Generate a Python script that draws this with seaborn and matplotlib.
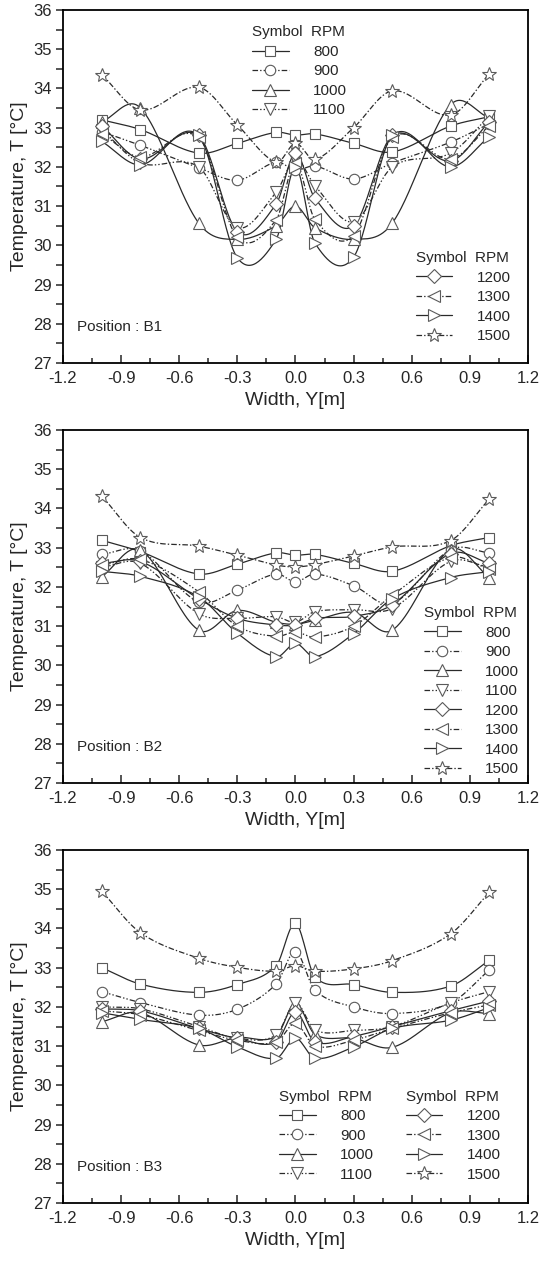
import matplotlib
matplotlib.use("Agg")
import matplotlib.pyplot as plt
import numpy as np
import seaborn as sns
from matplotlib.lines import Line2D
from matplotlib.ticker import MultipleLocator, FormatStrFormatter

# posições ao longo da largura (m)
width_y = [-1.0, -0.8, -0.5, -0.3, -0.1, 0.0, 0.1, 0.3, 0.5, 0.8, 1.0]
rpms = [800, 900, 1000, 1100, 1200, 1300, 1400, 1500]

# Position B1
b1_800 = [33.20, 32.95, 32.35, 32.60, 32.88, 32.81, 32.84, 32.60, 32.38, 33.04, 33.28]
b1_900 = [32.90, 32.55, 31.98, 31.66, 32.12, 31.92, 32.02, 31.69, 32.10, 32.63, 33.10]
b1_1000 = [33.15, 33.50, 30.57, 30.15, 30.50, 31.00, 30.45, 30.15, 30.57, 33.58, 33.25]
b1_1100 = [32.95, 32.10, 32.00, 30.45, 31.35, 32.20, 31.52, 30.60, 32.00, 32.35, 33.30]
b1_1200 = [33.05, 32.20, 32.80, 30.35, 31.05, 32.35, 31.20, 30.50, 32.80, 32.15, 33.15]
b1_1300 = [32.85, 32.25, 32.75, 30.20, 30.65, 32.10, 30.66, 30.25, 32.75, 32.20, 33.05]
b1_1400 = [32.65, 32.05, 32.80, 29.68, 30.15, 32.00, 30.06, 29.70, 32.80, 32.00, 32.77]
b1_1500 = [34.35, 33.45, 34.03, 33.07, 32.12, 32.60, 32.19, 33.00, 33.94, 33.32, 34.37]

# Position B2
b2_800 = [33.19, 32.90, 32.33, 32.58, 32.87, 32.81, 32.83, 32.60, 32.40, 33.05, 33.26]
b2_900 = [32.83, 32.92, 31.62, 31.92, 32.33, 32.13, 32.33, 32.03, 31.58, 32.95, 32.87]
b2_1000 = [32.26, 32.94, 30.90, 31.40, 31.10, 31.05, 31.15, 31.35, 30.90, 32.95, 32.24]
b2_1100 = [32.50, 32.60, 31.32, 31.20, 31.24, 31.10, 31.37, 31.42, 31.45, 32.65, 32.50]
b2_1200 = [32.60, 32.65, 31.70, 31.20, 31.03, 31.03, 31.20, 31.25, 31.55, 32.85, 32.60]
b2_1300 = [32.55, 32.70, 31.88, 31.00, 30.74, 30.85, 30.72, 31.00, 31.79, 32.75, 32.45]
b2_1400 = [32.40, 32.27, 31.75, 30.82, 30.22, 30.56, 30.22, 30.81, 31.70, 32.24, 32.39]
b2_1500 = [34.32, 33.26, 33.04, 32.81, 32.56, 32.51, 32.57, 32.79, 33.02, 33.18, 34.24]

# Position B3
b3_800 = [33.00, 32.58, 32.37, 32.57, 33.05, 34.13, 32.77, 32.57, 32.37, 32.53, 33.19]
b3_900 = [32.39, 32.11, 31.79, 31.94, 32.58, 33.41, 32.43, 32.00, 31.83, 32.10, 32.94]
b3_1000 = [31.62, 31.85, 31.03, 31.22, 31.25, 32.10, 31.30, 31.20, 30.97, 31.85, 31.83]
b3_1100 = [32.00, 31.95, 31.50, 31.20, 31.28, 32.10, 31.41, 31.40, 31.50, 32.10, 32.39]
b3_1200 = [31.95, 31.90, 31.45, 31.20, 31.10, 31.87, 31.11, 31.25, 31.50, 31.90, 32.15]
b3_1300 = [31.90, 31.80, 31.40, 31.15, 31.10, 31.58, 31.00, 31.15, 31.45, 31.85, 32.05]
b3_1400 = [31.85, 31.68, 31.45, 30.98, 30.69, 31.20, 30.69, 30.98, 31.45, 31.66, 31.98]
b3_1500 = [34.95, 33.89, 33.24, 33.01, 32.91, 33.05, 32.91, 32.97, 33.18, 33.86, 34.92]

positions = {
    "B1": [b1_800, b1_900, b1_1000, b1_1100, b1_1200, b1_1300, b1_1400, b1_1500],
    "B2": [b2_800, b2_900, b2_1000, b2_1100, b2_1200, b2_1300, b2_1400, b2_1500],
    "B3": [b3_800, b3_900, b3_1000, b3_1100, b3_1200, b3_1300, b3_1400, b3_1500],
}

markers = ["s", "o", "^", "v", "D", "<", ">", "*"]
dash2dot = (0, (4, 1.5, 1, 1.5, 1, 1.5))
dashdot = (0, (4, 1.5, 1, 1.5))
styles = ["-", dash2dot, "-", dash2dot, "-", dash2dot, "-", dashdot]
msizes = [7, 7.5, 8.5, 8.5, 7, 8.5, 8.5, 10]

sns.set_style("ticks")
plt.rcParams["font.family"] = ["Liberation Sans", "DejaVu Sans"]
plt.rcParams["axes.unicode_minus"] = False
plt.rcParams["lines.scale_dashes"] = False

LINE_C = "#2a2a2a"
MARK_C = "#5a5a5a"


def smooth_curve(x, y, n=300):
    # curva suave entre os pontos (Hermite com tangentes centradas, estilo Catmull-Rom)
    # só serve pra desenhar a linha; os marcadores ficam nos valores medidos
    x = np.asarray(x, float)
    y = np.asarray(y, float)
    m = np.empty_like(y)
    m[1:-1] = (y[2:] - y[:-2]) / (x[2:] - x[:-2])
    m[0] = (y[1] - y[0]) / (x[1] - x[0])
    m[-1] = (y[-1] - y[-2]) / (x[-1] - x[-2])
    xs = np.linspace(x[0], x[-1], n)
    idx = np.clip(np.searchsorted(x, xs, side="right") - 1, 0, len(x) - 2)
    h = x[idx + 1] - x[idx]
    t = (xs - x[idx]) / h
    h00 = 2 * t**3 - 3 * t**2 + 1
    h10 = t**3 - 2 * t**2 + t
    h01 = -2 * t**3 + 3 * t**2
    h11 = t**3 - t**2
    ys = h00 * y[idx] + h10 * h * m[idx] + h01 * y[idx + 1] + h11 * h * m[idx + 1]
    return xs, ys


def handle(i):
    return Line2D([], [], color=LINE_C, lw=0.9, ls=styles[i], marker=markers[i],
                  ms=msizes[i], mfc="white", mec=MARK_C, mew=0.8)


def add_legend(ax, idxs, loc_xy):
    leg = ax.legend([handle(i) for i in idxs], [str(rpms[i]) for i in idxs],
                    title="Symbol  RPM", title_fontsize=11, fontsize=11,
                    loc="upper left", bbox_to_anchor=loc_xy, frameon=False,
                    handlelength=2.4, handletextpad=1.6, labelspacing=0.36,
                    borderpad=0.2, borderaxespad=0)
    leg._legend_box.align = "left"
    return leg


fig = plt.figure(figsize=(5.42, 12.63), dpi=100)
bottoms = [0.7126, 0.3800, 0.0475]

for (pos, series), bottom in zip(positions.items(), bottoms):
    ax = fig.add_axes([0.1162, bottom, 0.858, 0.2795])
    for i, vals in enumerate(series):
        xs, ys = smooth_curve(width_y, vals)
        sns.lineplot(x=xs, y=ys, ax=ax, color=LINE_C, lw=0.9, linestyle=styles[i],
                     sort=False, estimator=None, legend=False)
        ax.plot(width_y, vals, ls="none", marker=markers[i], ms=msizes[i],
                mfc="white", mec=MARK_C, mew=0.8, zorder=3)

    ax.set_xlim(-1.2, 1.2)
    ax.set_ylim(27, 36)
    ax.xaxis.set_major_locator(MultipleLocator(0.3))
    ax.xaxis.set_minor_locator(MultipleLocator(0.15))
    ax.xaxis.set_major_formatter(FormatStrFormatter("%.1f"))
    ax.yaxis.set_major_locator(MultipleLocator(1))
    ax.yaxis.set_minor_locator(MultipleLocator(0.5))
    ax.tick_params(axis="x", which="major", direction="in", length=6, width=1.1,
                   labelsize=12, pad=6)
    ax.tick_params(axis="x", which="minor", direction="in", length=3.5, width=1.1)
    ax.tick_params(axis="y", which="major", direction="out", length=5, width=1.1,
                   labelsize=12, pad=3)
    ax.tick_params(axis="y", which="minor", direction="out", length=5, width=1.1)
    for sp in ax.spines.values():
        sp.set_linewidth(1.3)
        sp.set_color("black")
    ax.set_xlabel("Width, Y[m]", fontsize=14, labelpad=4)
    ax.set_ylabel("Temperature, T [°C]", fontsize=14, labelpad=4)
    ax.text(0.03, 0.103, f"Position : {pos}", transform=ax.transAxes,
            fontsize=11, va="center", ha="left")

    if pos == "B1":
        leg1 = add_legend(ax, [0, 1, 2, 3], (0.40, 0.965))
        ax.add_artist(leg1)
        add_legend(ax, [4, 5, 6, 7], (0.752, 0.325))
    elif pos == "B2":
        add_legend(ax, range(8), (0.77, 0.51))
    else:
        leg1 = add_legend(ax, [0, 1, 2, 3], (0.458, 0.33))
        ax.add_artist(leg1)
        add_legend(ax, [4, 5, 6, 7], (0.73, 0.33))

fig.savefig("out.png", dpi=100)
